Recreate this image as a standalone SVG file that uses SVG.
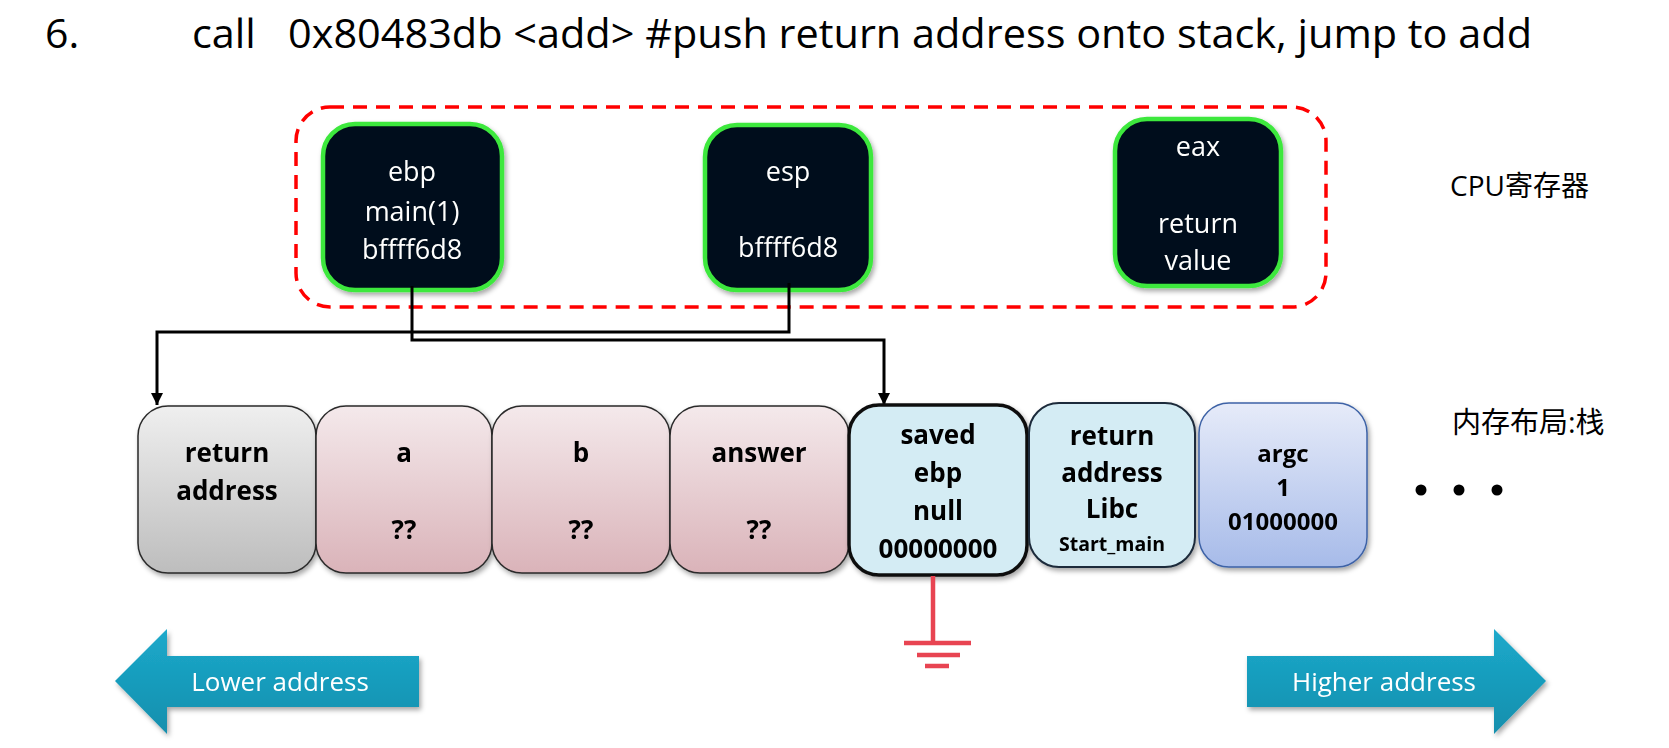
<svg xmlns="http://www.w3.org/2000/svg" width="1669" height="748" viewBox="0 0 1669 748">
<defs>
<style>
.t{font-family:"Open Sans","Liberation Sans",sans-serif;}
.reg{font-family:"Open Sans","Liberation Sans",sans-serif;fill:#ffffff;font-size:27px;text-anchor:middle;}
.cell{font-family:"Open Sans","Liberation Sans",sans-serif;fill:#000000;font-size:26px;font-weight:bold;text-anchor:middle;}
.reg-box{fill:#020f1a;stroke:#3ee83e;stroke-width:4.5;}
.conn{fill:none;stroke:#000000;stroke-width:3;}
.gnd{stroke:#e84452;stroke-width:4.5;fill:none;}
.label{font-family:"Open Sans","Noto Sans CJK SC",sans-serif;fill:#000000;}
.arrtxt{font-family:"Open Sans","Liberation Sans",sans-serif;font-size:26px;fill:#ffffff;text-anchor:middle;}
</style>
<filter id="sh" x="-10%" y="-10%" width="125%" height="125%">
<feDropShadow dx="2" dy="3" stdDeviation="2.5" flood-color="#000" flood-opacity="0.35"/>
</filter>
<linearGradient id="gGray" x1="0" y1="0" x2="0" y2="1">
<stop offset="0" stop-color="#efefef"/><stop offset="1" stop-color="#bdbdbd"/>
</linearGradient>
<linearGradient id="gPink" x1="0" y1="0" x2="0" y2="1">
<stop offset="0" stop-color="#f4e9eb"/><stop offset="1" stop-color="#dab3b9"/>
</linearGradient>
<linearGradient id="gBlue" x1="0" y1="0" x2="0" y2="1">
<stop offset="0" stop-color="#e6ebf9"/><stop offset="1" stop-color="#a7bbe9"/>
</linearGradient>
<linearGradient id="gArrow" x1="0" y1="0" x2="0" y2="1">
<stop offset="0" stop-color="#1ca9cb"/><stop offset="1" stop-color="#138fad"/>
</linearGradient>
<marker id="ah" viewBox="0 0 10 10" refX="10" refY="5" markerUnits="userSpaceOnUse" markerWidth="14" markerHeight="12" orient="auto">
<path d="M0,0 L10,5 L0,10 z" fill="#000"/>
</marker>
</defs>
<rect width="1669" height="748" fill="#ffffff"/>

<g id="title">
<text class="t" x="45" y="48" font-size="41">6.</text>
<text class="t" x="192" y="48" font-size="41" xml:space="preserve" style="white-space:pre" textLength="1340" lengthAdjust="spacingAndGlyphs">call   0x80483db &lt;add&gt; #push return address onto stack, jump to add</text>
</g>

<g id="cpu-group">
<rect x="296" y="107" width="1030" height="200" rx="34" fill="none" stroke="#ff0000" stroke-width="3.5" stroke-dasharray="14,9"/>
</g>

<g id="reg-ebp" filter="url(#sh)">
<rect class="reg-box" x="323" y="124" width="179" height="166" rx="32"/>
<text class="reg" x="412" y="181">ebp</text>
<text class="reg" x="412" y="221">main(1)</text>
<text class="reg" x="412" y="259">bffff6d8</text>
</g>

<g id="reg-esp" filter="url(#sh)">
<rect class="reg-box" x="705" y="125" width="166" height="165" rx="32"/>
<text class="reg" x="788" y="181">esp</text>
<text class="reg" x="788" y="257">bffff6d8</text>
</g>

<g id="reg-eax" filter="url(#sh)">
<rect class="reg-box" x="1115" y="119" width="166" height="167" rx="32"/>
<text class="reg" x="1198" y="156">eax</text>
<text class="reg" x="1198" y="233">return</text>
<text class="reg" x="1198" y="270">value</text>
</g>

<g id="label-cpu">
<text class="label" x="1450" y="196" font-size="28">CPU寄存器</text>
</g>
<g id="label-mem">
<text class="label" x="1452" y="433" font-size="29">内存布局:栈</text>
</g>

<g id="connectors">
<path class="conn" d="M789,283 V332 H157 V405" marker-end="url(#ah)"/>
<path class="conn" d="M412,286 V340 H884 V405" marker-end="url(#ah)"/>
</g>

<g id="cell-retaddr" filter="url(#sh)">
<rect x="138" y="406" width="178" height="167" rx="30" fill="url(#gGray)" stroke="#2a2a2a" stroke-width="1.5"/>
<text class="cell" x="227" y="462">return</text>
<text class="cell" x="227" y="500">address</text>
</g>

<g id="cell-a" filter="url(#sh)">
<rect x="316" y="406" width="176" height="167" rx="30" fill="url(#gPink)" stroke="#2a2a2a" stroke-width="1.5"/>
<text class="cell" x="404" y="462">a</text>
<text class="cell" x="404" y="539">??</text>
</g>

<g id="cell-b" filter="url(#sh)">
<rect x="492" y="406" width="178" height="167" rx="30" fill="url(#gPink)" stroke="#2a2a2a" stroke-width="1.5"/>
<text class="cell" x="581" y="462">b</text>
<text class="cell" x="581" y="539">??</text>
</g>

<g id="cell-answer" filter="url(#sh)">
<rect x="670" y="406" width="179" height="167" rx="30" fill="url(#gPink)" stroke="#2a2a2a" stroke-width="1.5"/>
<text class="cell" x="759" y="462">answer</text>
<text class="cell" x="759" y="539">??</text>
</g>

<g id="cell-savedebp" filter="url(#sh)">
<rect x="849" y="405" width="178" height="170" rx="30" fill="#d4ecf4" stroke="#111111" stroke-width="3.5"/>
<text class="cell" x="938" y="444">saved</text>
<text class="cell" x="938" y="482">ebp</text>
<text class="cell" x="938" y="520">null</text>
<text class="cell" x="938" y="558">00000000</text>
</g>

<g id="cell-libc" filter="url(#sh)">
<rect x="1029" y="403" width="166" height="164" rx="30" fill="#d4ecf4" stroke="#1c2b3a" stroke-width="2"/>
<text class="cell" x="1112" y="445">return</text>
<text class="cell" x="1112" y="482">address</text>
<text class="cell" x="1112" y="518">Libc</text>
<text class="cell" x="1112" y="551" style="font-size:19.5px">Start_main</text>
</g>

<g id="cell-argc" filter="url(#sh)">
<rect x="1199" y="403" width="168" height="164" rx="30" fill="url(#gBlue)" stroke="#3d62a6" stroke-width="1.5"/>
<text class="cell" x="1283" y="462" style="font-size:24px">argc</text>
<text class="cell" x="1283" y="496" style="font-size:24px">1</text>
<text class="cell" x="1283" y="530" style="font-size:24px">01000000</text>
</g>

<g id="ellipsis">
<circle cx="1421" cy="490" r="5.5" fill="#000"/>
<circle cx="1459" cy="490" r="5.5" fill="#000"/>
<circle cx="1497" cy="490" r="5.5" fill="#000"/>
</g>

<g id="ground">
<path class="gnd" d="M933,576 V643 M904,643 H971 M917,655 H960 M925,666 H949"/>
</g>

<g id="arrow-lower" filter="url(#sh)">
<path d="M115,681 L167,629 L167,656 L419,656 L419,707 L167,707 L167,734 Z" fill="url(#gArrow)"/>
<text class="arrtxt" x="280" y="691">Lower address</text>
</g>

<g id="arrow-higher" filter="url(#sh)">
<path d="M1546,681 L1494,629 L1494,656 L1247,656 L1247,707 L1494,707 L1494,734 Z" fill="url(#gArrow)"/>
<text class="arrtxt" x="1384" y="691">Higher address</text>
</g>
</svg>
